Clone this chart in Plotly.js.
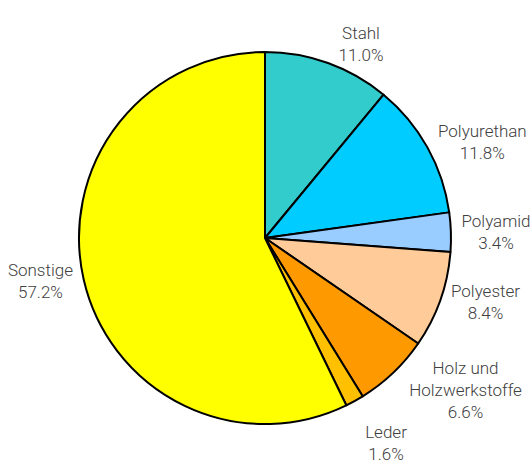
<!DOCTYPE html>
<html><head><meta charset="utf-8">
<script src="https://cdn.plot.ly/plotly-3.0.1.min.js"></script>
<style>html,body{margin:0;padding:0;background:#fff} path.textline{stroke-opacity:0 !important}</style>
</head><body>
<div id="chart" style="width:532px;height:475px"></div>
<script>
const categories = ["Stahl","Polyurethan","Polyamid","Polyester","Holz und<br>Holzwerkstoffe","Leder","Sonstige"];
const values = [11.0, 11.8, 3.4, 8.4, 6.6, 1.6, 57.2];
const colors = ["#33CCCC","#00CCFF","#99CCFF","#FFCC99","#FF9900","#FFC000","#FFFF00"];

Plotly.newPlot("chart", [{
  type: "pie",
  labels: categories,
  values: values,
  sort: false,
  direction: "clockwise",
  rotation: 0,
  marker: {colors: colors, line: {color: "#000", width: 2}},
  textinfo: "label+percent",
  texttemplate: "%{label}<br>%{percent:.1%}",
  textposition: "outside",
  outsidetextfont: {family: "Roboto, Lato, sans-serif", size: 17, weight: 300, color: "#404040"},
  hoverinfo: "none",
  showlegend: false
}], {
  width: 532, height: 475,
  margin: {l: 79, r: 81, t: 52, b: 51},
  paper_bgcolor: "#fff",
  showlegend: false
}, {displayModeBar: false, staticPlot: true});
</script>
</body></html>
